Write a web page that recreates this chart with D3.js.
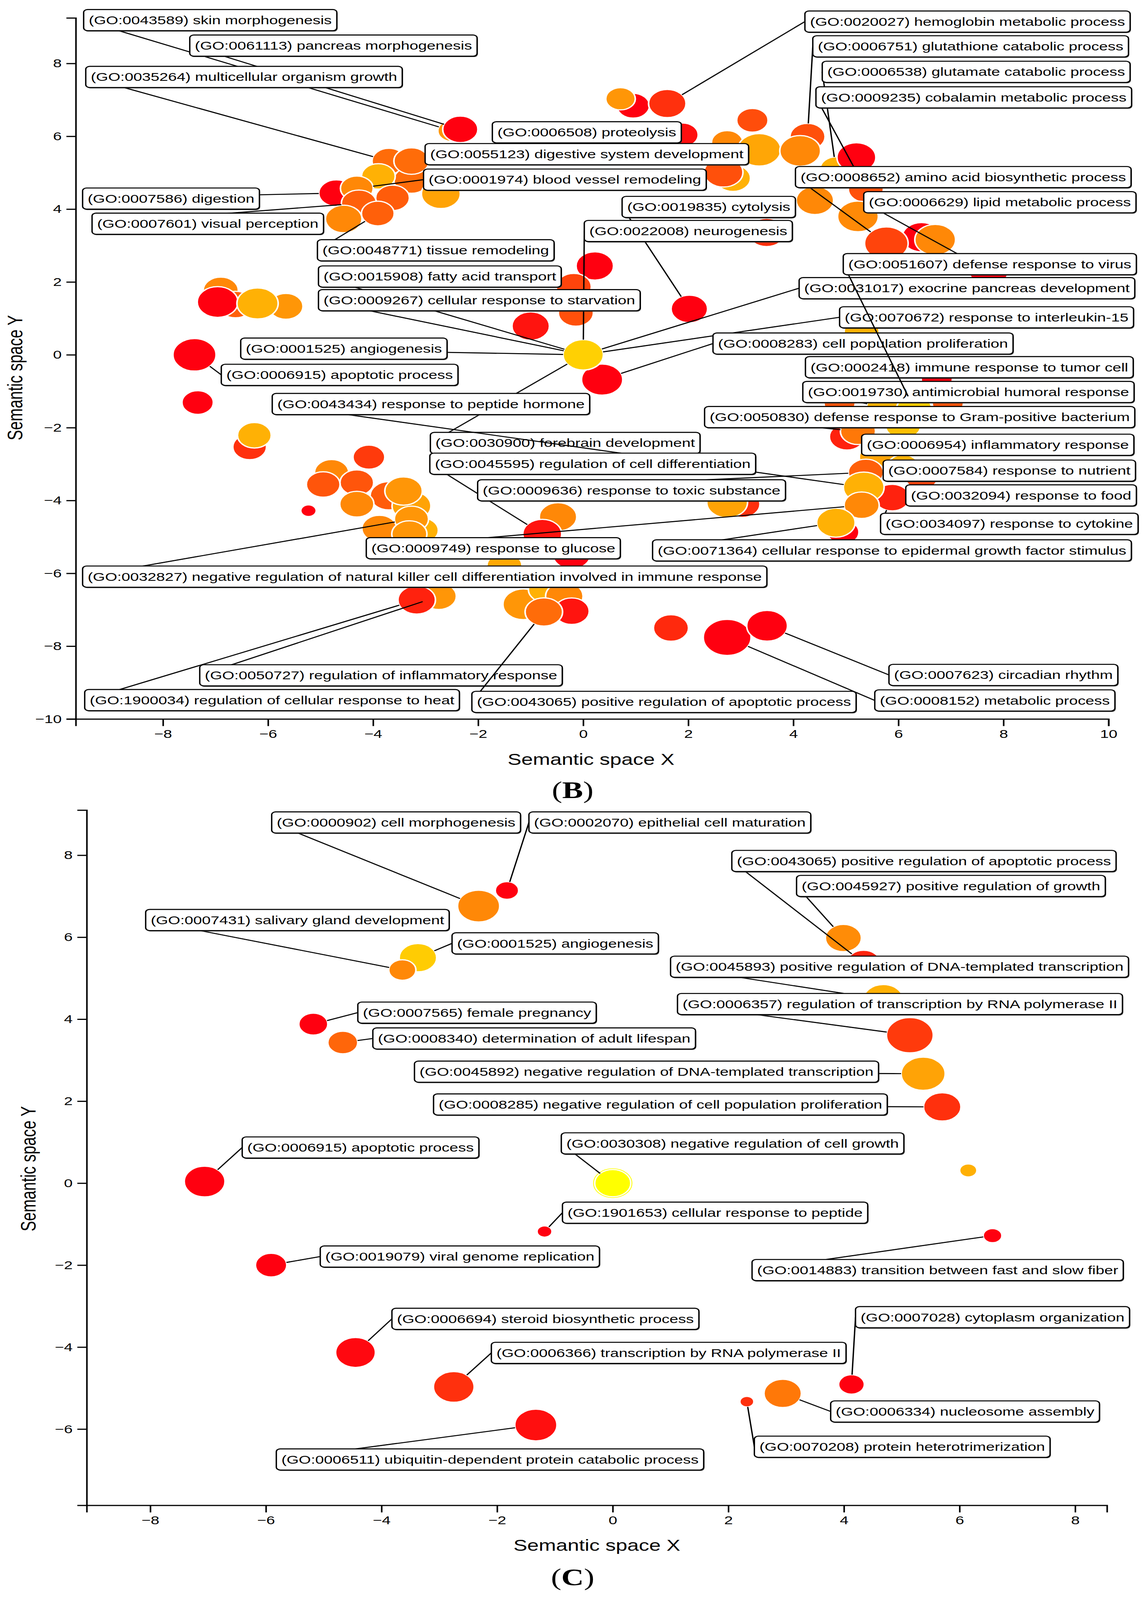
<!DOCTYPE html>
<html>
<head>
<meta charset="utf-8">
<script src="https://cdn.jsdelivr.net/npm/d3@7/dist/d3.min.js"></script>
<style>
  html, body { margin: 0; padding: 0; background: #fff; overflow: hidden; }
  svg { display: block; }
</style>
</head>
<body>
<script>
// Panel B terms, in drawing order: [GO id, name, semantic x, semantic y, log size, log10 p-value]
var bTerms = [
  ["GO:0035264", "multicellular organism growth", -3.7, 5.32, 3.6, -3.88],
  [null, null, -3.27, 4.8, 3.75, -3.88],
  ["GO:0055123", "digestive system development", -3.27, 5.32, 3.75, -3.88],
  [null, null, -3.9, 4.9, 3.6, -2.53],
  ["GO:0007586", "digestion", -4.7, 4.44, 3.75, -6],
  ["GO:0001974", "blood vessel remodeling", -4.31, 4.57, 3.5, -3.33],
  [null, null, -3.63, 4.31, 3.6, -4.2],
  [null, null, -2.71, 4.42, 4.15, -2.8],
  ["GO:0007601", "visual perception", -4.27, 4.16, 3.75, -4.12],
  ["GO:0048771", "tissue remodeling", -3.91, 3.88, 3.5, -4.12],
  [null, null, -4.56, 3.73, 3.9, -3.33],
  ["GO:0043589", "skin morphogenesis", -2.5, 6.15, 3.0, -3.06],
  ["GO:0061113", "pancreas morphogenesis", -2.34, 6.19, 3.75, -6],
  [null, null, 0.95, 6.84, 3.5, -6],
  [null, null, 0.71, 7.03, 3.15, -3.06],
  ["GO:0020027", "hemoglobin metabolic process", 1.6, 6.9, 4.0, -5.06],
  ["GO:0006508", "proteolysis", 1.89, 6.04, 3.35, -5.7],
  [null, null, 2.85, 4.85, 3.75, -2.53],
  [null, null, 2.67, 5.01, 4.15, -4.43],
  [null, null, 2.74, 5.83, 3.35, -3.33],
  [null, null, 3.22, 6.44, 3.35, -4.5],
  [null, null, 3.35, 5.63, 4.6, -2.75],
  ["GO:0006751", "glutathione catabolic process", 4.27, 5.99, 3.75, -4.43],
  [null, null, 4.13, 5.6, 4.35, -3.33],
  ["GO:0006538", "glutamate catabolic process", 4.81, 5.11, 3.35, -2.53],
  [null, null, 5.2, 5.42, 4.15, -6],
  ["GO:0009235", "cobalamin metabolic process", 5.38, 4.55, 3.75, -4.43],
  [null, null, 4.41, 4.24, 4.0, -3.33],
  [null, null, 5.23, 3.8, 4.35, -3.3],
  [null, null, 6.44, 3.23, 4.15, -6],
  ["GO:0008652", "amino acid biosynthetic process", 5.77, 3.06, 4.65, -4.67],
  [null, null, 6.7, 3.16, 4.35, -3.33],
  ["GO:0006629", "lipid metabolic process", 7.72, 2.3, 4.15, -6],
  [null, null, 3.49, 3.36, 4.0, -5.06],
  [null, null, 0.22, 2.44, 4.0, -6],
  [null, null, -0.18, 1.87, 3.75, -4.67],
  [null, null, -0.14, 1.15, 3.75, -4.43],
  [null, null, -1.0, 0.79, 4.0, -5.6],
  ["GO:0019835", "cytolysis", 2.02, 1.26, 3.9, -6],
  ["GO:0008283", "cell population proliferation", 0.36, -0.68, 4.4, -6],
  [null, null, -3.93, 0.17, 2.75, -2.53],
  ["GO:0022008", "neurogenesis", 0, 0, 4.3, -1.92],
  ["GO:0015908", "fatty acid transport", 0, 0, 4.3, -1.92],
  ["GO:0009267", "cellular response to starvation", 0, 0, 4.3, -1.92],
  ["GO:0001525", "angiogenesis", 0, 0, 4.3, -1.92],
  ["GO:0031017", "exocrine pancreas development", 0, 0, 4.3, -1.92],
  ["GO:0070672", "response to interleukin-15", 0, 0, 4.3, -1.92],
  ["GO:0030900", "forebrain development", 0, 0, 4.3, -1.92],
  [null, null, -6.9, 1.77, 3.75, -3.33],
  [null, null, -6.62, 1.38, 3.75, -4.12],
  [null, null, -5.66, 1.33, 3.65, -3.06],
  [null, null, -6.96, 1.45, 4.35, -6],
  [null, null, -6.2, 1.41, 4.4, -2.53],
  ["GO:0006915", "apoptotic process", -7.4, 0, 4.6, -6],
  [null, null, -7.34, -1.31, 3.35, -6],
  [null, null, -6.35, -2.53, 3.6, -5.06],
  [null, null, -6.26, -2.21, 3.6, -2.53],
  [null, null, -4.08, -2.81, 3.4, -4.86],
  [null, null, -4.79, -3.23, 3.65, -3.33],
  [null, null, -4.31, -3.51, 3.6, -4.33],
  [null, null, -4.95, -3.56, 3.6, -4.33],
  [null, null, -3.7, -3.87, 4.0, -4.2],
  [null, null, -3.27, -4.15, 4.15, -2.8],
  [null, null, -3.42, -3.74, 4.0, -3.06],
  [null, null, -4.31, -4.1, 3.65, -3.33],
  [null, null, -5.23, -4.28, 1.65, -6],
  [null, null, -3.88, -4.77, 3.75, -3.33],
  [null, null, -3.07, -4.82, 3.5, -2.53],
  ["GO:0032827", "negative regulation of natural killer cell differentiation involved in immune response", -3.27, -4.51, 3.65, -3.06],
  [null, null, -3.31, -4.92, 3.75, -3.06],
  [null, null, -0.48, -4.45, 4.0, -3.33],
  ["GO:0045595", "regulation of cell differentiation", -0.78, -4.92, 4.15, -5.6],
  [null, null, -0.22, -5.49, 4.0, -6],
  [null, null, -1.5, -5.8, 3.75, -2.7],
  ["GO:0050727", "regulation of inflammatory response", -2.75, -6.63, 3.75, -3.06],
  ["GO:1900034", "regulation of cellular response to heat", -3.17, -6.73, 4.0, -5.33],
  [null, null, -1.14, -6.85, 4.35, -3.06],
  [null, null, -0.71, -6.44, 3.75, -2.53],
  [null, null, -0.36, -6.63, 4.0, -3.33],
  [null, null, -0.22, -7.04, 3.75, -5.6],
  ["GO:0043065", "positive regulation of apoptotic process", -0.75, -7.06, 4.0, -3.88],
  [null, null, 1.67, -7.5, 3.75, -5.2],
  ["GO:0008152", "metabolic process", 2.74, -7.76, 5.1, -6],
  ["GO:0007623", "circadian rhythm", 3.5, -7.44, 4.35, -6],
  [null, null, 5.3, 0.63, 3.75, -2.53],
  ["GO:0002418", "immune response to tumor cell", 6.73, -0.65, 3.35, -6],
  [null, null, 4.88, -1.32, 3.35, -4.33],
  [null, null, 6.94, -1.32, 3.35, -4.33],
  ["GO:0019730", "antimicrobial humoral response", 5.73, -1.43, 3.75, -2.53],
  ["GO:0051607", "defense response to virus", 6.3, -1.48, 3.75, -2.0],
  [null, null, 5.02, -2.25, 3.75, -5.33],
  ["GO:0050830", "defense response to Gram-positive bacterium", 5.23, -2.1, 3.75, -3.65],
  [null, null, 6.09, -1.94, 3.75, -2.24],
  ["GO:0006954", "inflammatory response", 5.59, -2.81, 3.75, -2.8],
  ["GO:0007584", "response to nutrient", 6.09, -3.07, 3.35, -2.53],
  ["GO:0032094", "response to food", 6.44, -3.38, 3.35, -4.67],
  ["GO:0009636", "response to toxic substance", 5.38, -3.23, 3.75, -4.12],
  ["GO:0034097", "response to cytokine", 5.88, -3.92, 3.75, -5.33],
  ["GO:0043434", "response to peptide hormone", 5.34, -3.64, 4.35, -2.53],
  ["GO:0009749", "response to glucose", 5.3, -4.13, 3.75, -3.33],
  [null, null, 4.95, -4.87, 3.35, -6],
  ["GO:0071364", "cellular response to epidermal growth factor stimulus", 4.81, -4.61, 4.1, -2.53],
  [null, null, 3.03, -4.1, 3.75, -5.06],
  [null, null, 2.74, -4.05, 4.35, -2.8]
];

// Panel B label boxes, drawing order: [GO id, box left x, box middle y] in semantic space
var bLabels = [
  ["GO:0043589", -9.51, 9.19],
  ["GO:0061113", -7.49, 8.49],
  ["GO:0035264", -9.47, 7.63],
  ["GO:0006508", -1.73, 6.11],
  ["GO:0055123", -3.01, 5.51],
  ["GO:0007586", -9.53, 4.29],
  ["GO:0001974", -3.04, 4.81],
  ["GO:0007601", -9.35, 3.6],
  ["GO:0048771", -5.06, 2.87],
  ["GO:0020027", 4.22, 9.15],
  ["GO:0006751", 4.37, 8.47],
  ["GO:0006538", 4.55, 7.77],
  ["GO:0009235", 4.43, 7.07],
  ["GO:0008652", 4.04, 4.88],
  ["GO:0006629", 5.34, 4.19],
  ["GO:0019835", 0.74, 4.06],
  ["GO:0022008", 0.02, 3.4],
  ["GO:0015908", -5.04, 2.15],
  ["GO:0009267", -5.04, 1.5],
  ["GO:0001525", -6.52, 0.17],
  ["GO:0006915", -6.89, -0.55],
  ["GO:0031017", 4.11, 1.83],
  ["GO:0070672", 4.88, 1.03],
  ["GO:0008283", 2.47, 0.31],
  ["GO:0002418", 4.23, -0.34],
  ["GO:0019730", 4.18, -1.02],
  ["GO:0051607", 4.95, 2.49],
  ["GO:0050830", 2.31, -1.71],
  ["GO:0030900", -2.91, -2.42],
  ["GO:0043434", -5.92, -1.35],
  ["GO:0045595", -2.92, -2.99],
  ["GO:0009636", -2.01, -3.72],
  ["GO:0006954", 5.3, -2.47],
  ["GO:0007584", 5.71, -3.18],
  ["GO:0032094", 6.14, -3.86],
  ["GO:0034097", 5.66, -4.64],
  ["GO:0071364", 1.32, -5.37],
  ["GO:0009749", -4.13, -5.31],
  ["GO:0032827", -9.53, -6.09],
  ["GO:0050727", -7.3, -8.8],
  ["GO:1900034", -9.49, -9.48],
  ["GO:0043065", -2.12, -9.53],
  ["GO:0007623", 5.82, -8.79],
  ["GO:0008152", 5.55, -9.49]
];

// Panel C terms, in drawing order
var cTerms = [
  ["GO:0000902", "cell morphogenesis", -2.32, 6.76, 4.5, -3.33],
  ["GO:0002070", "epithelial cell maturation", -1.83, 7.14, 2.5, -6],
  ["GO:0001525", "angiogenesis", -3.37, 5.5, 4.0, -2.0],
  ["GO:0007431", "salivary gland development", -3.64, 5.2, 2.9, -3.33],
  ["GO:0043065", "positive regulation of apoptotic process", 4.34, 5.37, 3.6, -5.3],
  ["GO:0045927", "positive regulation of growth", 3.99, 5.98, 3.85, -3.25],
  ["GO:0045893", "positive regulation of DNA-templated transcription", 4.68, 4.48, 4.25, -2.53],
  ["GO:0006357", "regulation of transcription by RNA polymerase II", 5.14, 3.61, 5.0, -4.86],
  ["GO:0007565", "female pregnancy", -5.18, 3.88, 3.1, -6],
  ["GO:0008340", "determination of adult lifespan", -4.67, 3.43, 3.2, -4.0],
  ["GO:0045892", "negative regulation of DNA-templated transcription", 5.37, 2.67, 4.7, -2.8],
  ["GO:0008285", "negative regulation of cell population proliferation", 5.7, 1.86, 4.0, -5.06],
  ["GO:0006915", "apoptotic process", -7.06, 0.04, 4.35, -6],
  [null, null, 0, 0, 4.35, -1],
  ["GO:0030308", "negative regulation of cell growth", 0, 0, 3.85, -1],
  [null, null, 6.15, 0.31, 1.85, -2.55],
  ["GO:1901653", "cellular response to peptide", -1.18, -1.18, 1.6, -6],
  ["GO:0019079", "viral genome replication", -5.91, -2.0, 3.35, -6],
  ["GO:0014883", "transition between fast and slow fiber", 6.57, -1.28, 2.0, -6],
  ["GO:0006694", "steroid biosynthetic process", -4.45, -4.13, 4.25, -5.85],
  ["GO:0006366", "transcription by RNA polymerase II", -2.75, -4.97, 4.35, -5.06],
  ["GO:0007028", "cytoplasm organization", 4.13, -4.91, 2.75, -6],
  ["GO:0006334", "nucleosome assembly", 2.94, -5.13, 4.0, -3.65],
  ["GO:0070208", "protein heterotrimerization", 2.32, -5.33, 1.5, -5.06],
  ["GO:0006511", "ubiquitin-dependent protein catabolic process", -1.33, -5.9, 4.5, -5.7]
];

var cLabels = [
  ["GO:0000902", -5.9, 8.8],
  ["GO:0002070", -1.45, 8.8],
  ["GO:0043065", 2.06, 7.86],
  ["GO:0045927", 3.18, 7.25],
  ["GO:0007431", -8.08, 6.42],
  ["GO:0001525", -2.78, 5.85],
  ["GO:0045893", 1.0, 5.28],
  ["GO:0006357", 1.12, 4.37],
  ["GO:0007565", -4.41, 4.16],
  ["GO:0008340", -4.15, 3.53],
  ["GO:0045892", -3.43, 2.72],
  ["GO:0008285", -3.1, 1.92],
  ["GO:0006915", -6.41, 0.87],
  ["GO:0030308", -0.89, 0.97],
  ["GO:1901653", -0.87, -0.72],
  ["GO:0019079", -5.06, -1.79],
  ["GO:0014883", 2.41, -2.12],
  ["GO:0006694", -3.82, -3.31],
  ["GO:0006366", -2.1, -4.14],
  ["GO:0007028", 4.2, -3.27],
  ["GO:0006334", 3.77, -5.57],
  ["GO:0070208", 2.45, -6.43],
  ["GO:0006511", -5.82, -6.74]
];

var bXTicks = [-8, -6, -4, -2, 0, 2, 4, 6, 8, 10];
var bYTicks = [-10, -8, -6, -4, -2, 0, 2, 4, 6, 8];
var cXTicks = [-8, -6, -4, -2, 0, 2, 4, 6, 8];
var cYTicks = [-6, -4, -2, 0, 2, 4, 6, 8];

// the figure is laid out on a 2939 x 5443 canvas and stretched to whatever window we get
var width = 2939;
var height = 5443;
var FONT = "'Liberation Sans', Arial, Helvetica, sans-serif";

var svg = d3.select('body').append('svg')
    .attr('width', window.innerWidth || width)
    .attr('height', window.innerHeight || height)
    .attr('viewBox', '0 0 ' + width + ' ' + height)
    .attr('preserveAspectRatio', 'none')
    .attr('font-family', FONT)

svg.append('rect').attr('width', width).attr('height', height).attr('fill', '#fff')

var color = d3.scaleLinear().domain([-6, -1]).range(['#ff0010', '#ffff00']).clamp(true)
var rScale = d3.scaleLinear().domain([0, 5]).range([0, 60])

function drawPanel(p){
    var x = d3.scaleLinear().domain(p.xDomain).range([p.left, p.right])
    var y = d3.scaleLinear().domain(p.yDomain).range([p.bottom, p.top])
    var g = svg.append('g')

    g.append('g')
        .attr('transform', 'translate(0,' + p.bottom + ')')
        .call(d3.axisBottom(x).tickValues(p.xTicks).tickSize(24).tickPadding(12))
    g.append('g')
        .attr('transform', 'translate(' + p.left + ',0)')
        .call(d3.axisLeft(y).tickValues(p.yTicks).tickSize(24).tickPadding(12))
    g.selectAll('.domain, .tick line').attr('stroke', '#000').attr('stroke-width', 4)
    g.selectAll('.tick text').attr('font-size', 40).attr('font-family', FONT).attr('fill', '#000')

    g.append('text')
        .attr('x', p.xTitle[0]).attr('y', p.xTitle[1])
        .attr('text-anchor', 'middle').attr('font-size', 53)
        .text('Semantic space X')
    g.append('text')
        .attr('transform', 'translate(' + p.yTitle[0] + ',' + p.yTitle[1] + ') rotate(-90)')
        .attr('text-anchor', 'middle').attr('font-size', 53)
        .text('Semantic space Y')

    // bubbles
    g.append('g').selectAll('circle')
        .data(p.terms).enter()
        .append('circle')
            .attr('cx', d => x(d[2]))
            .attr('cy', d => y(d[3]))
            .attr('r', d => rScale(d[4]))
            .attr('fill', d => color(d[5]))
            .attr('stroke', '#fff')
            .attr('stroke-width', 4)

    // labels: connector, then box, one term at a time
    var byId = new Map(p.terms.filter(d => d[0]).map(d => [d[0], d]))
    var lg = g.append('g')
    p.labels.forEach(function(l){
        var t = byId.get(l[0])
        var cx = x(t[2]), cy = y(t[3]), r = rScale(t[4])
        var ax = x(l[1]), ay = y(l[2])
        var dx = ax - cx, dy = ay - cy, len = Math.hypot(dx, dy) || 1
        var grp = lg.append('g')
        grp.append('line')
            .attr('x1', cx + dx / len * r).attr('y1', cy + dy / len * r)
            .attr('x2', ax).attr('y2', ay)
            .attr('stroke', '#000').attr('stroke-width', 3.5)
        var shadow = grp.append('rect')
        var box = grp.append('rect')
        var txt = grp.append('text')
            .attr('x', ax + 13).attr('y', ay + 14)
            .attr('font-size', 40).attr('fill', '#000')
            .text('(' + t[0] + ') ' + t[1])
        var tw = txt.node().getComputedTextLength()
        shadow.attr('x', ax + 2).attr('y', ay - 36 + 3)
            .attr('width', tw + 26).attr('height', 72).attr('rx', 10)
            .attr('fill', '#444')
        box.attr('x', ax).attr('y', ay - 36)
            .attr('width', tw + 26).attr('height', 72).attr('rx', 10)
            .attr('fill', '#fff').attr('stroke', '#000').attr('stroke-width', 3.5)
    })

    g.append('text')
        .attr('x', p.tag[0]).attr('y', p.tag[1])
        .attr('text-anchor', 'middle')
        .attr('font-family', "'Liberation Serif', 'DejaVu Serif', serif")
        .attr('font-size', 80)
        .html('(<tspan font-weight="bold">' + p.tagText + '</tspan>)')
}

drawPanel({
    terms: bTerms, labels: bLabels,
    xDomain: [-9.66, 10], yDomain: [-10, 9.25],
    left: 194, right: 2838, top: 61, bottom: 2446,
    xTicks: bXTicks, yTicks: bYTicks,
    xTitle: [1513, 2602], yTitle: [57, 1285],
    tag: [1466, 2715], tagText: 'B'
})

drawPanel({
    terms: cTerms, labels: cLabels,
    xDomain: [-9.1, 8.55], yDomain: [-7.86, 9.1],
    left: 222, right: 2834, top: 2756, bottom: 5121,
    xTicks: cXTicks, yTicks: cYTicks,
    xTitle: [1528, 5275], yTitle: [91, 3976],
    tag: [1466, 5392], tagText: 'C'
})
</script>
</body>
</html>
